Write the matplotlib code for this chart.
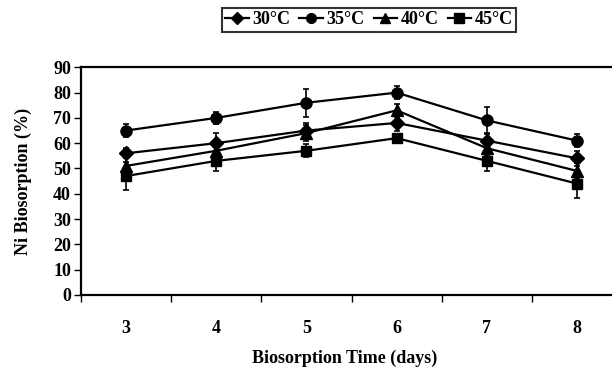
import numpy as np
import matplotlib
matplotlib.use('Agg')
import matplotlib.pyplot as plt
from matplotlib.lines import Line2D

days = [3, 4, 5, 6, 7, 8]
labels = ['30°C', '35°C', '40°C', '45°C']
t30 = [56, 60, 65, 68, 61, 54]
t35 = [65, 70, 76, 80, 69, 61]
t40 = [51, 57, 64, 73, 58, 49]
t45 = [47, 53, 57, 62, 53, 44]
e30 = [2, 4, 3, 3, 3, 3]
e35 = [2.5, 2.5, 5.5, 2.5, 5.5, 2.5]
e40 = [3, 3, 3, 2.5, 3, 3]
e45 = [5.5, 4, 2.5, 1, 4, 5.5]

plt.rcParams['font.family'] = 'Liberation Serif'
plt.rcParams['font.weight'] = 'bold'
plt.rcParams['axes.labelweight'] = 'bold'
plt.rcParams['font.size'] = 13

fig = plt.figure(figsize=(6.12, 3.70), dpi=100)
# the chart runs past the right edge in the original, so the axes does too
ax = fig.add_axes([0.132, 0.203, 0.885, 0.615])

series = [(t30, e30, 'D', 7), (t35, e35, 'o', 8), (t40, e40, '^', 8.5), (t45, e45, 's', 7.5)]
handles = []
for (vals, errs, mk, ms), lab in zip(series, labels):
    ax.errorbar(days, vals, yerr=errs, color='k', lw=1.6, marker=mk, ms=ms,
                elinewidth=1.2, capsize=2.5, capthick=1.2)
    handles.append(Line2D([], [], color='k', lw=1.6, marker=mk, ms=ms - 1, label=lab))

ax.set_xlim(2.5, 8.5)
ax.set_ylim(0, 90)
ax.set_yticks(range(0, 91, 10))
ax.set_xticks(days)
ax.set_xticks(np.arange(2.5, 8.6, 1), minor=True)
ax.tick_params(axis='x', which='major', length=0, pad=18)
ax.tick_params(axis='x', which='minor', length=5, width=1, direction='out')
ax.tick_params(axis='y', length=5, width=1, direction='out', pad=2)
for s in ['left', 'bottom', 'top']:
    ax.spines[s].set_linewidth(1.6)
ax.spines['right'].set_visible(False)

ax.set_ylabel('Ni Biosorption (%)', labelpad=15)
ax.set_xlabel('Biosorption Time (days)')
ax.xaxis.set_label_coords(0.488, -0.24)

leg = fig.legend(handles=handles, loc='center', bbox_to_anchor=(369 / 612, 1 - 20 / 370), ncol=4,
                 frameon=True, fancybox=False, edgecolor='k', handlelength=1.3,
                 handletextpad=0.2, columnspacing=0.5, borderpad=0.2, borderaxespad=0)
leg.get_frame().set_linewidth(1.5)

fig.savefig('out.png', dpi=100)
